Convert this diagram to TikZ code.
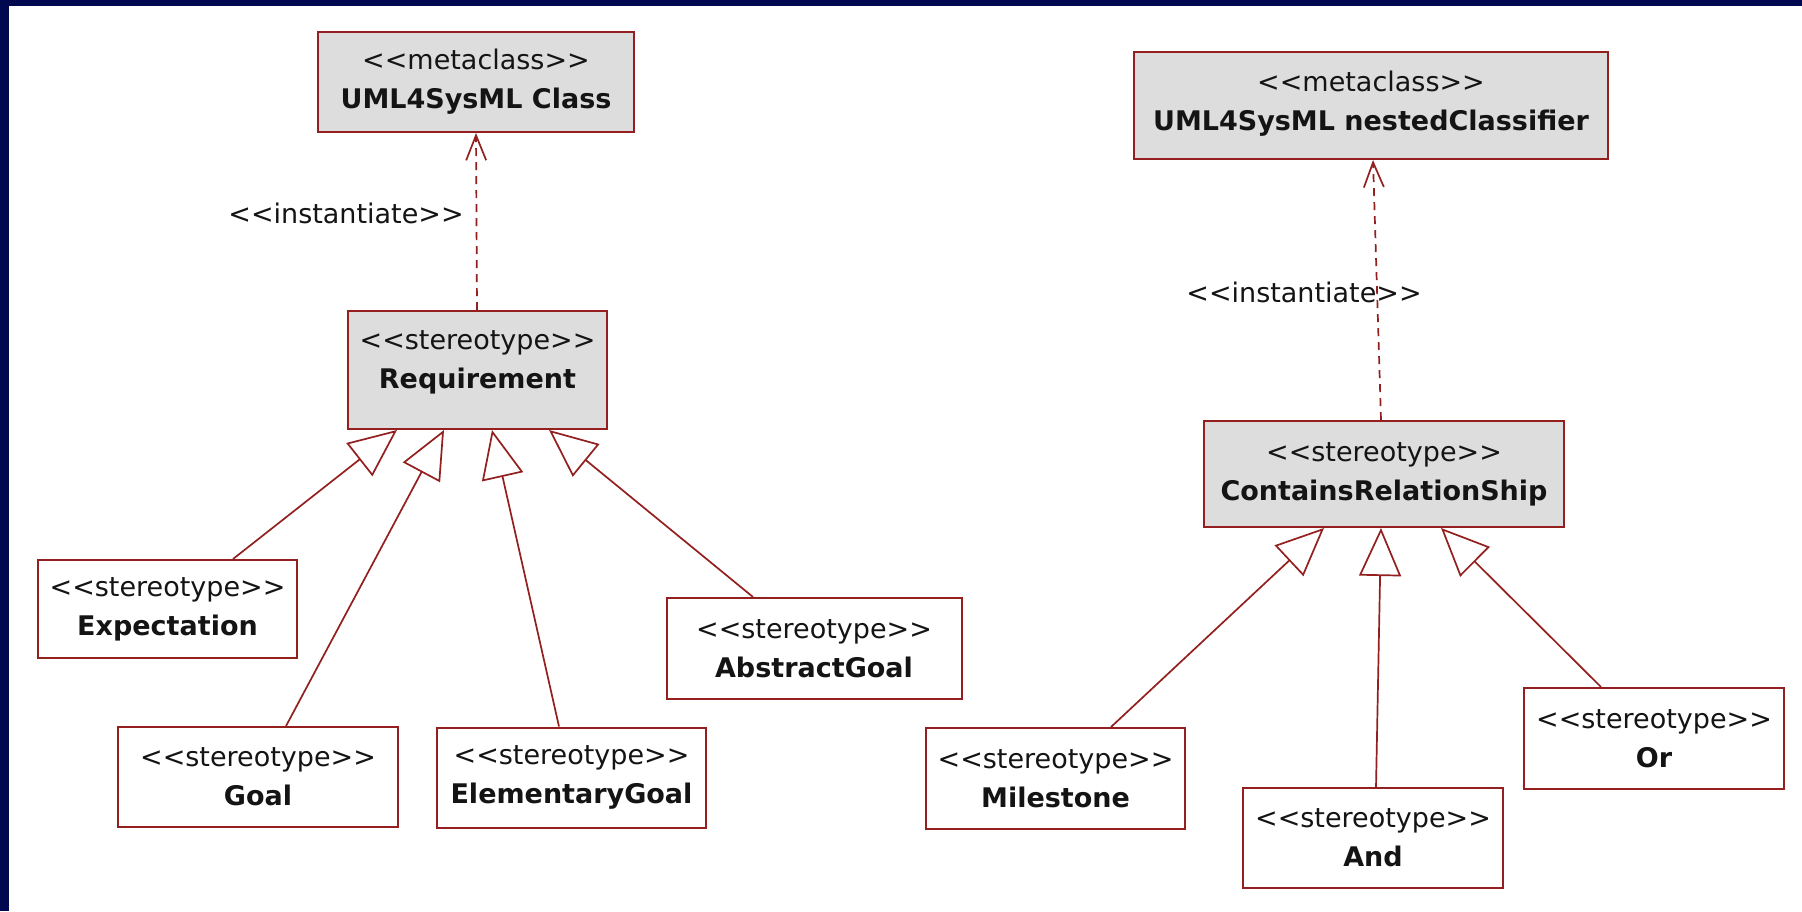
\documentclass[tikz,border=0pt]{standalone}
\usepackage{fontspec}
\setmainfont{DejaVu Sans}[Ligatures=TeXOff]
\usetikzlibrary{arrows.meta,calc}
\definecolor{navy}{RGB}{0,8,80}
\definecolor{umlred}{RGB}{147,31,31}
\definecolor{umlgray}{RGB}{220,221,220}
\definecolor{txt}{RGB}{20,20,20}
\begin{document}
\begin{tikzpicture}[x=0.5pt,y=-0.5pt,
  box/.style={draw=umlred, line width=1pt, fill=white, inner sep=0pt, align=center,
    font=\fontsize{13.5}{19.5}\selectfont, text=txt},
  meta/.style={box, fill=umlgray},
  gen/.style={draw=umlred, line width=0.85pt, -{Triangle[open,length=24pt,width=21pt]}},
  dep/.style={draw=umlred, line width=0.85pt, dash pattern=on 4pt off 3pt,
    -{Straight Barb[length=12.5pt,width=10pt]}},
  lbl/.style={font=\fontsize{13.5}{16}\selectfont, text=txt, inner sep=0pt}]
\useasboundingbox (0,0) rectangle (1802,911);
\fill[navy] (0,0) rectangle (1802,911);
\fill[white] (9,6) rectangle (1802,911);

% left hierarchy
\node[meta, minimum width=158pt, minimum height=50pt] (cls) at (476,82)
  {<<metaclass>>\\\textbf{UML4SysML Class}};
\node[meta, minimum width=129.5pt, minimum height=59pt, text depth=10pt] (req) at (477.5,370)
  {<<stereotype>>\\\textbf{Requirement}};
\node[box, minimum width=129.5pt, minimum height=49pt] (exp) at (167.5,609)
  {<<stereotype>>\\\textbf{Expectation}};
\node[box, minimum width=140pt, minimum height=50pt] (goal) at (258,777)
  {<<stereotype>>\\\textbf{Goal}};
\node[box, minimum width=134.5pt, minimum height=50pt] (elem) at (571.5,777.5)
  {<<stereotype>>\\\textbf{ElementaryGoal}};
\node[box, minimum width=147.5pt, minimum height=50.5pt] (abs) at (814,648.5)
  {<<stereotype>>\\\textbf{AbstractGoal}};

% right hierarchy
\node[meta, minimum width=237pt, minimum height=53.5pt, text depth=5pt] (ncl) at (1371,105.5)
  {<<metaclass>>\\\textbf{UML4SysML nestedClassifier}};
\node[meta, minimum width=180pt, minimum height=53pt] (crs) at (1384,474)
  {<<stereotype>>\\\textbf{ContainsRelationShip}};
\node[box, minimum width=129.5pt, minimum height=50.5pt] (mil) at (1055.5,778.5)
  {<<stereotype>>\\\textbf{Milestone}};
\node[box, minimum width=130pt, minimum height=50pt] (and) at (1373,838)
  {<<stereotype>>\\\textbf{And}};
\node[box, minimum width=130pt, minimum height=50.5pt] (or) at (1654,738.5)
  {<<stereotype>>\\\textbf{Or}};

% labels
\node[lbl] (lab1) at (346,213) {<<instantiate>>};
\node[lbl] (lab2) at (1304,292) {<<instantiate>>};

% dependencies
\draw[dep] ($(req.north)+(-0.5,0)$) -- ($(cls.south)+(0,0)$);
\draw[dep] ($(crs.north)+(-3,0)$) -- ($(ncl.south)+(2,0)$);

% generalizations
\draw[gen] ($(exp.north)+(65.5,0)$) -- ($(req.south)+(-80.5,0)$);
\draw[gen] ($(goal.north)+(28,0)$) -- ($(req.south)+(-33.5,0)$);
\draw[gen] ($(elem.north)+(-12.5,0)$) -- ($(req.south)+(14.5,0)$);
\draw[gen] ($(abs.north)+(-61,0)$) -- ($(req.south)+(71.5,0)$);
\draw[gen] ($(mil.north)+(55.5,0)$) -- ($(crs.south)+(-60,0)$);
\draw[gen] ($(and.north)+(3,0)$) -- ($(crs.south)+(-3,0)$);
\draw[gen] ($(or.north)+(-53,0)$) -- ($(crs.south)+(57,0)$);
\end{tikzpicture}
\end{document}
